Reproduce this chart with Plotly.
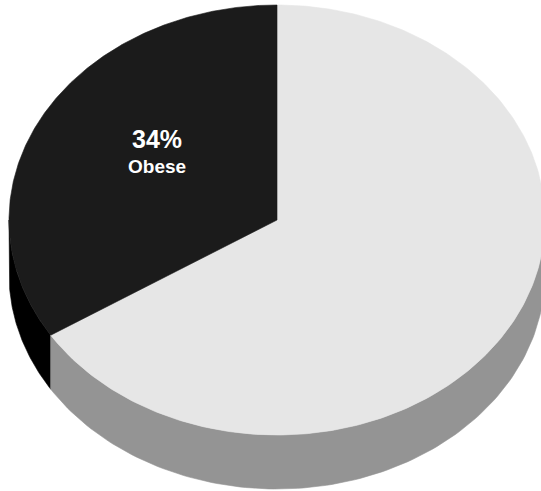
import numpy as np
import plotly.graph_objects as go

# Data
labels = ["Obese", "Not obese"]
values = [34, 66]
top_colors = ["#1b1b1b", "#e6e6e6"]
side_colors = ["#000000", "#949494"]
show_label = [True, False]

# Geometry of the pseudo-3D pie (layout constants, pixel-like axis units)
W, H = 541, 491
cx, cy = 277, 220
rx, ry = 268, 215
depth = 54

total = sum(values)
fig = go.Figure()

# angles in screen param space: t=-90 is 12 o'clock; slices go counter-clockwise
start = -90.0
slices = []
for lab, v in zip(labels, values):
    sweep = 360.0 * v / total
    t1 = start - sweep
    slices.append((t1, start))
    start = t1


def ell(t, dy=0.0):
    r = np.radians(t)
    return cx + rx * np.cos(r), cy + ry * np.sin(r) + dy


# side faces (front half: t in [0,180] modulo 360)
for (a, b), col in zip(slices, side_colors):
    for k in range(-1, 2):
        lo = max(a, 0 + 360 * k)
        hi = min(b, 180 + 360 * k)
        if hi > lo:
            ts = np.linspace(lo, hi, 120)
            xt, yt = ell(ts)
            xb, yb = ell(ts[::-1], depth)
            xs = np.concatenate([xt, xb, xt[:1]])
            ys = np.concatenate([yt, yb, yt[:1]])
            fig.add_trace(go.Scatter(x=xs, y=ys, mode="lines", fill="toself",
                                     fillcolor=col, line=dict(color=col, width=0.6),
                                     hoverinfo="skip", showlegend=False))

# top faces (draw light first, dark on top)
for i in [1, 0]:
    a, b = slices[i]
    ts = np.linspace(a, b, 300)
    xt, yt = ell(ts)
    xs = np.concatenate([[cx], xt, [cx]])
    ys = np.concatenate([[cy], yt, [cy]])
    fig.add_trace(go.Scatter(x=xs, y=ys, mode="lines", fill="toself",
                             fillcolor=top_colors[i], line=dict(color=top_colors[i], width=0.6),
                             hoverinfo="skip", showlegend=False))

# labels
for (a, b), lab, v, show in zip(slices, labels, values, show_label):
    if not show:
        continue
    mid = (a + b) / 2
    r = np.radians(mid)
    f = 0.51
    lx = cx + rx * f * np.cos(r)
    ly = cy + ry * f * np.sin(r)
    fig.add_annotation(x=lx, y=ly, text=f"<b>{lab}</b>", showarrow=False,
                       font=dict(family="Liberation Sans, Arial", size=19, color="white"),
                       xanchor="center", yanchor="middle", yshift=1)
    fig.add_annotation(x=lx, y=ly, text=f"<b>{v}%</b>", showarrow=False,
                       font=dict(family="Liberation Sans, Arial", size=25, color="white"),
                       xanchor="center", yanchor="middle", yshift=28)

fig.update_layout(
    width=W, height=H,
    margin=dict(l=0, r=0, t=0, b=0),
    paper_bgcolor="white", plot_bgcolor="white",
    xaxis=dict(range=[0, W], visible=False, fixedrange=True),
    yaxis=dict(range=[H, 0], visible=False, fixedrange=True),
    showlegend=False,
)

fig.write_html("out.html")
